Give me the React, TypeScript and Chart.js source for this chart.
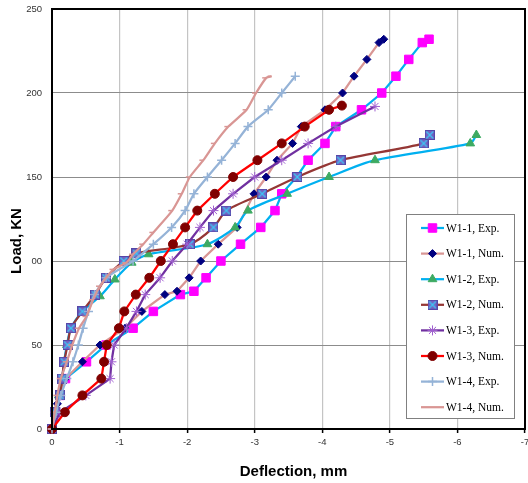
import React, { useEffect, useRef } from 'react';
import { Chart, registerables } from 'chart.js';
import { drawPoint } from 'chart.js/helpers';

Chart.register(...registerables);

// ---- tick labels ----
const yTickValues = [0, 50, 100, 150, 200, 250];
const yTickLabels = ['0', '50', '00', '150', '200', '250'];
const xTickValues = [0, -1, -2, -3, -4, -5, -6, -7];
const xTickLabels = ['0', '-1', '-2', '-3', '-4', '-5', '-6', '-7'];

const seriesNames = [
  'W1-1, Exp.', 'W1-1, Num.', 'W1-2, Exp.', 'W1-2, Num.',
  'W1-3, Exp.', 'W1-3, Num.', 'W1-4, Exp.', 'W1-4, Num.',
];

// ---- series values (deflection mm, load kN) ----
const w11ExpX = [0, -0.12, -0.2, -0.51, -0.8, -1.2, -1.5, -1.9, -2.1, -2.28, -2.5, -2.79, -3.09, -3.3, -3.4, -3.62, -3.79, -4.04, -4.2, -4.58, -4.88, -5.09, -5.28, -5.48, -5.58];
const w11ExpY = [0, 20, 30, 40, 50, 60, 70, 80, 82, 90, 100, 110, 120, 130, 140, 150, 160, 170, 180, 190, 200, 210, 220, 230, 232];

const w11NumX = [0, -0.08, -0.2, -0.45, -0.71, -1.08, -1.33, -1.67, -1.85, -2.03, -2.2, -2.46, -2.74, -2.99, -3.17, -3.33, -3.56, -3.69, -4.04, -4.3, -4.47, -4.66, -4.84, -4.91];
const w11NumY = [0, 15, 30, 40, 50, 60, 70, 80, 82, 90, 100, 110, 120, 140, 150, 160, 170, 180, 190, 200, 210, 220, 230, 232];

const w12ExpX = [0, -0.04, -0.1, -0.15, -0.18, -0.22, -0.28, -0.45, -0.71, -0.93, -1.18, -1.43, -2.3, -2.71, -2.9, -3.48, -4.1, -4.78, -6.19, -6.28];
const w12ExpY = [0, 10, 20, 30, 40, 50, 60, 70, 79, 89, 99, 104, 110, 120, 130, 140, 150, 160, 170, 175];

const w12NumX = [0, -0.04, -0.12, -0.15, -0.18, -0.23, -0.28, -0.45, -0.64, -0.8, -1.06, -1.25, -2.04, -2.39, -2.58, -3.11, -3.63, -4.27, -5.5, -5.59];
const w12NumY = [0, 10, 20, 30, 40, 50, 60, 70, 80, 90, 100, 104.5, 110, 120, 130, 140, 150, 160, 170, 175];

const w13ExpX = [0, -0.12, -0.5, -0.86, -0.88, -0.92, -1.1, -1.25, -1.38, -1.6, -1.78, -2.0, -2.19, -2.39, -2.68, -3.0, -3.4, -3.79, -4.2, -4.78];
const w13ExpY = [0, 10, 20, 30, 40, 50, 60, 70, 80, 90, 100, 110, 120, 130, 140, 150, 160, 170, 180, 192];

const w13NumX = [0, -0.19, -0.45, -0.73, -0.77, -0.81, -0.99, -1.07, -1.24, -1.44, -1.61, -1.79, -1.97, -2.15, -2.41, -2.68, -3.04, -3.4, -3.74, -4.1, -4.29];
const w13NumY = [0, 10, 20, 30, 40, 50, 60, 70, 80, 90, 100, 110, 120, 130, 140, 150, 160, 170, 180, 190, 192.5];

const w14ExpX = [0, -0.06, -0.13, -0.22, -0.31, -0.39, -0.46, -0.54, -0.63, -0.8, -1.2, -1.5, -1.77, -1.97, -2.1, -2.3, -2.51, -2.71, -2.9, -3.2, -3.4, -3.6];
const w14ExpY = [0, 10, 20, 30, 40, 50, 60, 70, 80, 90, 100, 110, 120, 130, 140, 150, 160, 170, 180, 190, 200, 210];

const w14NumX = [0, -0.04, -0.08, -0.13, -0.22, -0.3, -0.4, -0.51, -0.61, -0.71, -0.91, -1.1, -1.2, -1.35, -1.5, -1.78, -1.92, -2.04, -2.24, -2.41, -2.61, -2.88, -3.02, -3.17, -3.25];
const w14NumY = [0, 10, 20, 30, 40, 50, 60, 67, 77, 85, 95, 99, 104, 110, 117, 130, 140, 150, 160, 170, 180, 190, 200, 209, 210];

const zip = (xs: number[], ys: number[]) => xs.map((x, i) => ({ x, y: ys[i] }));

function makeBoxCross(): HTMLCanvasElement {
  const c = document.createElement('canvas');
  c.width = 10;
  c.height = 10;
  const g = c.getContext('2d')!;
  g.fillStyle = '#7462C2';
  g.fillRect(0, 0, 10, 10);
  g.strokeStyle = '#5646A8';
  g.lineWidth = 1;
  g.strokeRect(0.5, 0.5, 9, 9);
  g.strokeStyle = '#3CC8F4';
  g.lineWidth = 1.3;
  g.beginPath();
  g.moveTo(1.5, 1.5); g.lineTo(8.5, 8.5);
  g.moveTo(8.5, 1.5); g.lineTo(1.5, 8.5);
  g.stroke();
  return c;
}

export default function App() {
  const ref = useRef<HTMLCanvasElement>(null);

  useEffect(() => {
    if (!ref.current) return;
    const boxCross = makeBoxCross();

    const base = (i: number) => ({
      label: seriesNames[i],
      showLine: true,
      borderWidth: 2.25,
      order: 8 - i,
      clip: 6,
    });

    const datasets: any[] = [
      { ...base(0), data: zip(w11ExpX, w11ExpY), borderColor: '#00B0F0', tension: 0,
        pointStyle: 'rect', pointRadius: 6, pointBackgroundColor: '#FF00FF', pointBorderColor: '#FF00FF', pointBorderWidth: 1 },
      { ...base(1), data: zip(w11NumX, w11NumY), borderColor: '#D99694', tension: 0,
        pointStyle: 'rectRot', pointRadius: 4, pointBackgroundColor: '#000080', pointBorderColor: '#000080', pointBorderWidth: 1 },
      { ...base(2), data: zip(w12ExpX, w12ExpY), borderColor: '#00B0F0', tension: 0.25,
        pointStyle: 'triangle', pointRadius: 5, pointBackgroundColor: '#3DAA62', pointBorderColor: '#3DAA62', pointBorderWidth: 1 },
      { ...base(3), data: zip(w12NumX, w12NumY), borderColor: '#953735', tension: 0.25,
        pointStyle: boxCross, pointRadius: 5, pointBackgroundColor: '#7462C2', pointBorderColor: '#7462C2', pointBorderWidth: 1 },
      { ...base(4), data: zip(w13ExpX, w13ExpY), borderColor: '#7030A0', tension: 0,
        pointStyle: 'star', pointRadius: 5, pointBackgroundColor: '#A060D0', pointBorderColor: '#A060D0', pointBorderWidth: 1 },
      { ...base(5), data: zip(w13NumX, w13NumY), borderColor: '#FF0000', tension: 0,
        pointStyle: 'circle', pointRadius: 4.5, pointBackgroundColor: '#800000', pointBorderColor: '#800000', pointBorderWidth: 1 },
      { ...base(6), data: zip(w14ExpX, w14ExpY), borderColor: '#95B3D7', tension: 0.2,
        pointStyle: 'cross', pointRadius: 4.5, pointBackgroundColor: '#95B3D7', pointBorderColor: '#95B3D7', pointBorderWidth: 1.5 },
      { ...base(7), data: zip(w14NumX, w14NumY), borderColor: '#D99694', tension: 0.2,
        pointStyle: 'dash', pointRotation: 180, pointRadius: 4, pointBackgroundColor: '#D99694', pointBorderColor: '#D99694', pointBorderWidth: 1.5,
        noLegendMarker: true },
    ];

    const framePlugin = {
      id: 'frameAndTitles',
      afterDatasetsDraw(chart: any) {
        const { ctx, chartArea: a } = chart;
        ctx.save();
        ctx.strokeStyle = '#000';
        ctx.lineWidth = 2;
        ctx.strokeRect(a.left, a.top, a.right - a.left, a.bottom - a.top);
        ctx.restore();
      },
      afterDraw(chart: any) {
        const { ctx, chartArea: a } = chart;
        ctx.save();
        // axis titles
        ctx.fillStyle = '#000';
        ctx.font = 'bold 15px "Liberation Sans", Arial, sans-serif';
        ctx.textAlign = 'center';
        ctx.textBaseline = 'middle';
        ctx.fillText('Deflection, mm', (a.left + a.right) / 2 + 5, 472);
        ctx.translate(17, 241);
        ctx.rotate(-Math.PI / 2);
        ctx.fillText('Load, KN', 0, 0);
        ctx.restore();

        // legend
        ctx.save();
        const bx = 406, by = 214, bw = 109, bh = 205;
        ctx.fillStyle = '#FFFFFF';
        ctx.fillRect(bx, by, bw, bh);
        ctx.strokeStyle = '#808080';
        ctx.lineWidth = 1;
        ctx.strokeRect(bx + 0.5, by + 0.5, bw - 1, bh - 1);
        ctx.font = '11.5px "Liberation Serif", "Times New Roman", serif';
        ctx.textBaseline = 'middle';
        ctx.textAlign = 'left';
        chart.data.datasets.forEach((ds: any, i: number) => {
          const y = 228 + i * 25.6;
          ctx.strokeStyle = ds.borderColor;
          ctx.lineWidth = 2.25;
          ctx.beginPath();
          ctx.moveTo(421, y);
          ctx.lineTo(444, y);
          ctx.stroke();
          if (!ds.noLegendMarker) {
            ctx.fillStyle = ds.pointBackgroundColor;
            ctx.strokeStyle = ds.pointBorderColor;
            ctx.lineWidth = ds.pointBorderWidth;
            drawPoint(ctx, {
              pointStyle: ds.pointStyle,
              radius: ds.pointRadius,
              rotation: ds.pointRotation || 0,
              borderWidth: ds.pointBorderWidth,
            } as any, 432.5, y);
          }
          ctx.fillStyle = '#000';
          ctx.fillText(ds.label, 446, y + 0.5);
        });
        ctx.restore();
      },
    };

    const tickFont = { family: '"Liberation Sans", Arial, sans-serif', size: 9.5 };

    const chart = new Chart(ref.current, {
      type: 'scatter',
      data: { datasets },
      options: {
        animation: false,
        responsive: false,
        events: [],
        layout: { autoPadding: false, padding: { top: 9, right: 3, left: 0, bottom: 0 } },
        plugins: { legend: { display: false }, tooltip: { enabled: false } },
        scales: {
          x: {
            type: 'linear',
            min: -7,
            max: 0,
            reverse: true,
            afterBuildTicks: (s: any) => { s.ticks = xTickValues.map((v) => ({ value: v })); },
            ticks: {
              font: tickFont,
              color: '#333',
              padding: 4,
              maxRotation: 0,
              autoSkip: false,
              callback: (v: any) => xTickLabels[xTickValues.indexOf(Number(v))],
            },
            grid: { color: '#C4C4C4', lineWidth: 1.2, tickColor: '#000', tickLength: 4, tickWidth: 1.5 },
            border: { color: '#000', width: 2 },
            afterFit: (s: any) => { s.height = 54; s.paddingLeft = 0; s.paddingRight = 0; },
          },
          y: {
            type: 'linear',
            min: 0,
            max: 250,
            afterBuildTicks: (s: any) => { s.ticks = yTickValues.map((v) => ({ value: v })); },
            ticks: {
              font: tickFont,
              color: '#333',
              padding: 10,
              autoSkip: false,
              callback: (v: any) => yTickLabels[yTickValues.indexOf(Number(v))],
            },
            grid: { color: '#8C8C8C', lineWidth: 1, drawTicks: false },
            border: { color: '#000', width: 2 },
            afterFit: (s: any) => { s.width = 52; s.paddingTop = 0; s.paddingBottom = 0; },
          },
        },
      },
      plugins: [framePlugin],
    } as any);

    return () => chart.destroy();
  }, []);

  return (
    <div style={{ position: 'absolute', left: 0, top: 0, width: 528, height: 483, background: '#fff' }}>
      <canvas ref={ref} width={528} height={483} style={{ display: 'block' }} />
    </div>
  );
}
